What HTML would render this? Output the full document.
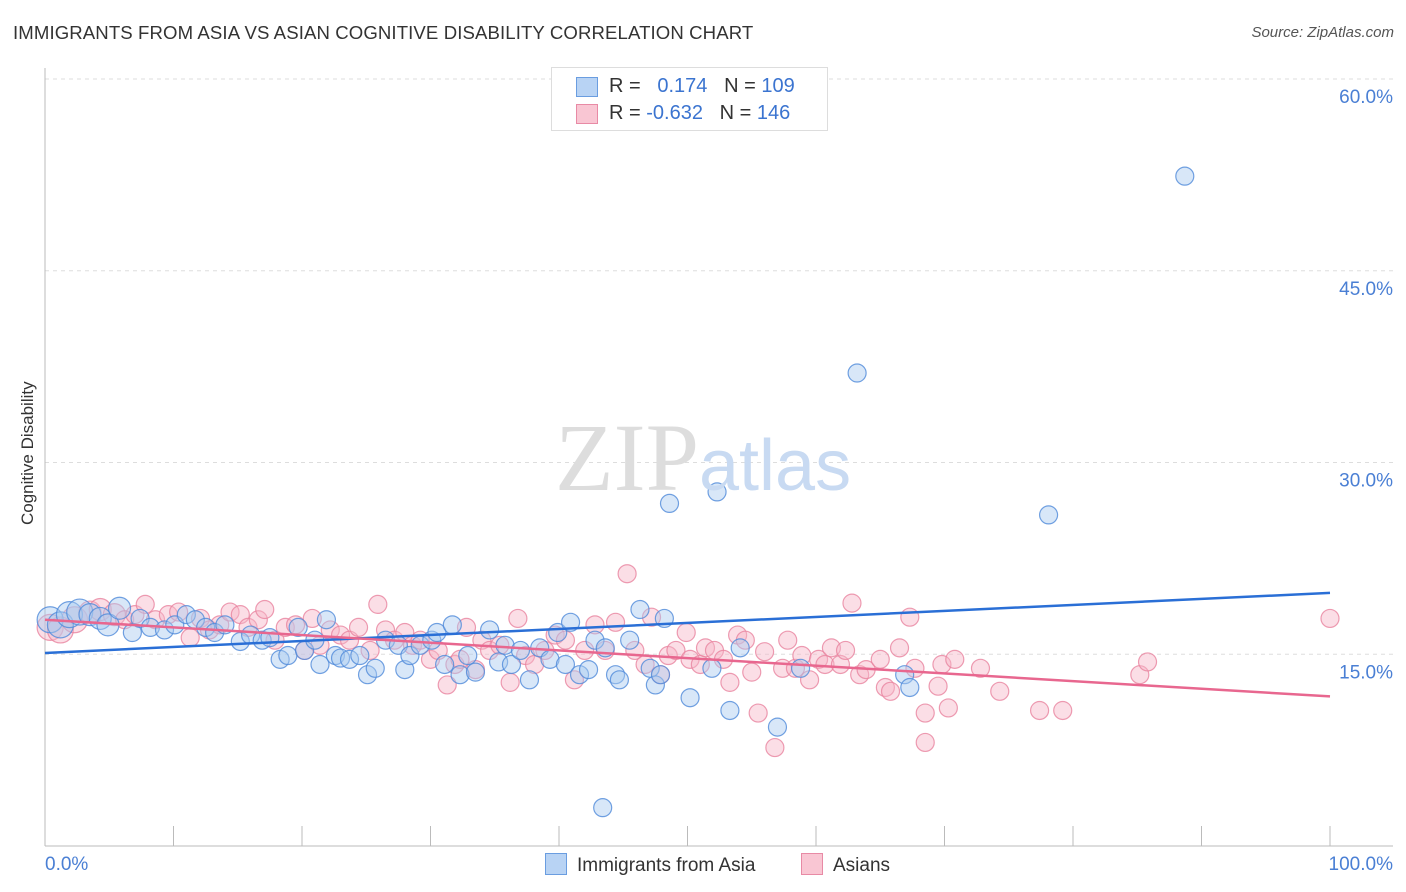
<!DOCTYPE html>
<html><head><meta charset="utf-8"><style>
body{margin:0;background:#fff;font-family:"Liberation Sans",sans-serif}
#wrap{position:relative;width:1406px;height:892px;overflow:hidden}
.t{position:absolute;white-space:nowrap}
</style></head><body>
<div id="wrap">
<div class="t" style="left:13px;top:22px;font-size:18.6px;color:#333;letter-spacing:0.1px">IMMIGRANTS FROM ASIA VS ASIAN COGNITIVE DISABILITY CORRELATION CHART</div>
<div class="t" style="right:12px;top:24px;font-size:15px;color:#555;font-style:italic">Source: ZipAtlas.com</div>
<div class="t" style="left:-42px;top:445px;font-size:17px;color:#333;transform:rotate(-90deg);width:140px;text-align:center">Cognitive Disability</div>
<svg id="svg" width="1406" height="892" style="position:absolute;left:0;top:0"></svg>
<div class="t" style="left:551px;top:67px;width:275px;height:62px;border:1px solid #ddd;background:#fff;font-size:20px;color:#333">
  <div style="position:absolute;left:24px;top:9px;width:20px;height:18px;background:#b8d3f4;border:1px solid #6a9de0"></div>
  <div style="position:absolute;left:57px;top:7px">R = &nbsp;&nbsp;<span style="color:#3b74d0">0.174</span>&nbsp;&nbsp;&nbsp;N = <span style="color:#3b74d0">109</span></div>
  <div style="position:absolute;left:24px;top:36px;width:20px;height:18px;background:#f9c6d3;border:1px solid #e88aa5"></div>
  <div style="position:absolute;left:57px;top:34px">R = <span style="color:#3b74d0">-0.632</span>&nbsp;&nbsp;&nbsp;N = <span style="color:#3b74d0">146</span></div>
</div>
<div class="t" style="left:555px;top:402px;font-size:96px;font-family:'Liberation Serif',serif;color:#ddd">ZIP<span style="font-family:'Liberation Sans',sans-serif;color:#c8daf2;font-size:72px">atlas</span></div>
<div class="t" style="left:545px;top:853px;font-size:19px;color:#333"><span style="display:inline-block;width:20px;height:20px;background:#b8d3f4;border:1px solid #6a9de0;vertical-align:-4px;margin-right:10px"></span>Immigrants from Asia</div>
<div class="t" style="left:801px;top:853px;font-size:19px;color:#333"><span style="display:inline-block;width:20px;height:20px;background:#f9c6d3;border:1px solid #e88aa5;vertical-align:-4px;margin-right:10px"></span>Asians</div>
</div>
<script>
const yTicks=[15,30,45,60];
const yTickLabels=["15.0%","30.0%","45.0%","60.0%"];
const xTicks=[0,10,20,30,40,50,60,70,80,90,100];
const blueX=[0.4,1.2,1.9,2.7,3.5,4.3,4.9,5.8,6.8,7.4,8.2,9.3,10.1,11.0,11.7,12.5,13.2,14.0,15.2,16.0,16.9,17.5,18.3,18.9,19.7,20.2,21.0,21.4,21.9,22.6,23.0,23.7,24.5,25.1,25.7,26.5,27.5,28.0,28.4,29.2,30.1,30.5,31.1,31.7,32.3,32.9,33.5,34.6,35.3,35.8,36.3,37.0,37.7,38.5,39.3,39.9,40.5,40.9,41.6,42.3,42.8,43.6,44.4,44.7,45.5,46.3,47.1,47.5,47.9,48.2,48.6,50.2,51.9,52.3,53.3,54.1,57.0,58.8,63.2,66.9,67.3,78.1,88.7,43.4];
const blueY=[17.7,17.3,18.1,18.3,18.1,17.8,17.3,18.6,16.7,17.8,17.1,16.9,17.3,18.1,17.7,17.1,16.7,17.3,16.0,16.5,16.1,16.3,14.6,14.9,17.1,15.3,16.1,14.2,17.7,14.9,14.7,14.6,14.9,13.4,13.9,16.1,15.7,13.8,14.9,15.7,16.1,16.7,14.2,17.3,13.4,14.9,13.6,16.9,14.4,15.7,14.2,15.3,13.0,15.5,14.6,16.7,14.2,17.5,13.4,13.8,16.1,15.5,13.4,13.0,16.1,18.5,13.9,12.6,13.4,17.8,26.8,11.6,13.9,27.7,10.6,15.5,9.3,13.9,37.0,13.4,12.4,25.9,52.4,3.0];
const pinkX=[0.4,1.2,2.3,3.5,4.3,5.4,6.2,7.0,7.8,8.6,9.6,10.4,11.3,12.1,12.8,13.6,14.4,15.2,15.8,16.6,17.1,17.9,18.7,19.5,20.2,20.8,21.4,22.2,23.0,23.7,24.4,25.3,25.9,26.5,27.2,28.0,28.6,29.2,30.0,30.6,31.3,31.9,32.3,32.8,33.5,34.0,34.6,35.4,36.2,36.8,37.4,38.1,38.9,39.7,40.5,41.2,42.0,42.8,43.6,44.4,45.3,45.9,46.7,47.2,47.9,48.5,49.1,49.9,50.2,51.0,51.4,52.1,52.8,53.3,53.9,54.5,55.0,55.5,56.0,56.8,57.4,57.8,58.4,58.9,59.5,60.2,60.7,61.2,61.9,62.3,62.8,63.4,63.9,65.0,65.4,65.8,66.5,67.3,67.7,68.5,68.5,69.5,69.8,70.3,70.8,72.8,74.3,77.4,79.2,85.2,85.8,100];
const pinkY=[17.1,16.9,17.7,18.3,18.5,18.1,17.7,18.1,18.9,17.7,18.1,18.3,16.3,17.8,16.9,17.3,18.3,18.1,17.1,17.7,18.5,16.1,17.1,17.3,15.3,17.8,15.7,16.9,16.5,16.1,17.1,15.3,18.9,16.9,16.1,16.7,15.7,16.1,14.6,15.3,12.6,14.2,14.6,17.1,13.8,16.1,15.3,15.7,12.8,17.8,14.9,14.2,15.3,16.5,16.1,13.0,15.3,17.3,15.3,17.5,21.3,15.3,14.2,17.9,13.4,14.9,15.3,16.7,14.6,14.2,15.5,15.3,14.6,12.8,16.5,16.1,13.6,10.4,15.2,7.7,13.9,16.1,13.9,14.9,13.0,14.6,14.2,15.5,14.2,15.3,19.0,13.4,13.8,14.6,12.4,12.1,15.5,17.9,13.9,10.4,8.1,12.5,14.2,10.8,14.6,13.9,12.1,10.6,10.6,13.4,14.4,17.8];
const blueTrend=[[0,15.1],[100,19.8]];
const pinkTrend=[[0,17.7],[100,11.7]];

const L=45,R=1330,T=79,B=846;
const sx=v=>L+(R-L)*v/100;
const sy=v=>B-(B-T)*v/60;
const svg=document.getElementById('svg');
const NS='http://www.w3.org/2000/svg';
function mk(tag,at){const e=document.createElementNS(NS,tag);for(const k in at)e.setAttribute(k,at[k]);svg.appendChild(e);return e;}
yTicks.forEach((t,i)=>{
 const g=mk('line',{x1:L,x2:1393,y1:sy(t),y2:sy(t),stroke:'#ddd','stroke-dasharray':'4,4'});
 
 
 const tx=mk('text',{x:1393,y:sy(t)+24,'text-anchor':'end','font-size':19,fill:'#4a7fd4','font-family':'Liberation Sans, sans-serif'});
 tx.textContent=yTickLabels[i];
 
 
});
const ax=mk('line',{x1:L,x2:L,y1:68,y2:B,stroke:'#bbb'});


const xa=mk('line',{x1:L,x2:1393,y1:B,y2:B,stroke:'#bbb'});


xTicks.forEach(t=>{
 const k=mk('line',{x1:sx(t),x2:sx(t),y1:B-20,y2:B,stroke:'#bbb'});
 
 
});
const x0=mk('text',{x:45,y:870,'font-size':19,fill:'#4a7fd4','font-family':'Liberation Sans, sans-serif'});x0.textContent='0.0%';


const x1=mk('text',{x:1393,y:870,'text-anchor':'end','font-size':19,fill:'#4a7fd4','font-family':'Liberation Sans, sans-serif'});x1.textContent='100.0%';


function pts(X,Y,fill,stroke,name){
 X.forEach((x,i)=>{
  const r=x<3?13:(x<6?11:9);
  const c=mk('circle',{cx:sx(x),cy:sy(Y[i]),r:r,fill:fill,'fill-opacity':0.45,stroke:stroke,'stroke-opacity':0.8,'stroke-width':1.2});
  
  
 });
}
pts(pinkX,pinkY,'#f7b6c8','#e8839f','asians-point');
pts(blueX,blueY,'#a9c9f0','#4f8ad9','immigrants-point');
function trend(tr,col,name){
 const l=mk('line',{x1:sx(tr[0][0]),y1:sy(tr[0][1]),x2:sx(tr[1][0]),y2:sy(tr[1][1]),stroke:col,'stroke-width':2.5});
 
 
}
trend(blueTrend,'#2a6fd6','immigrants-trendline');
trend(pinkTrend,'#e8678f','asians-trendline');
</script>
</body></html>
